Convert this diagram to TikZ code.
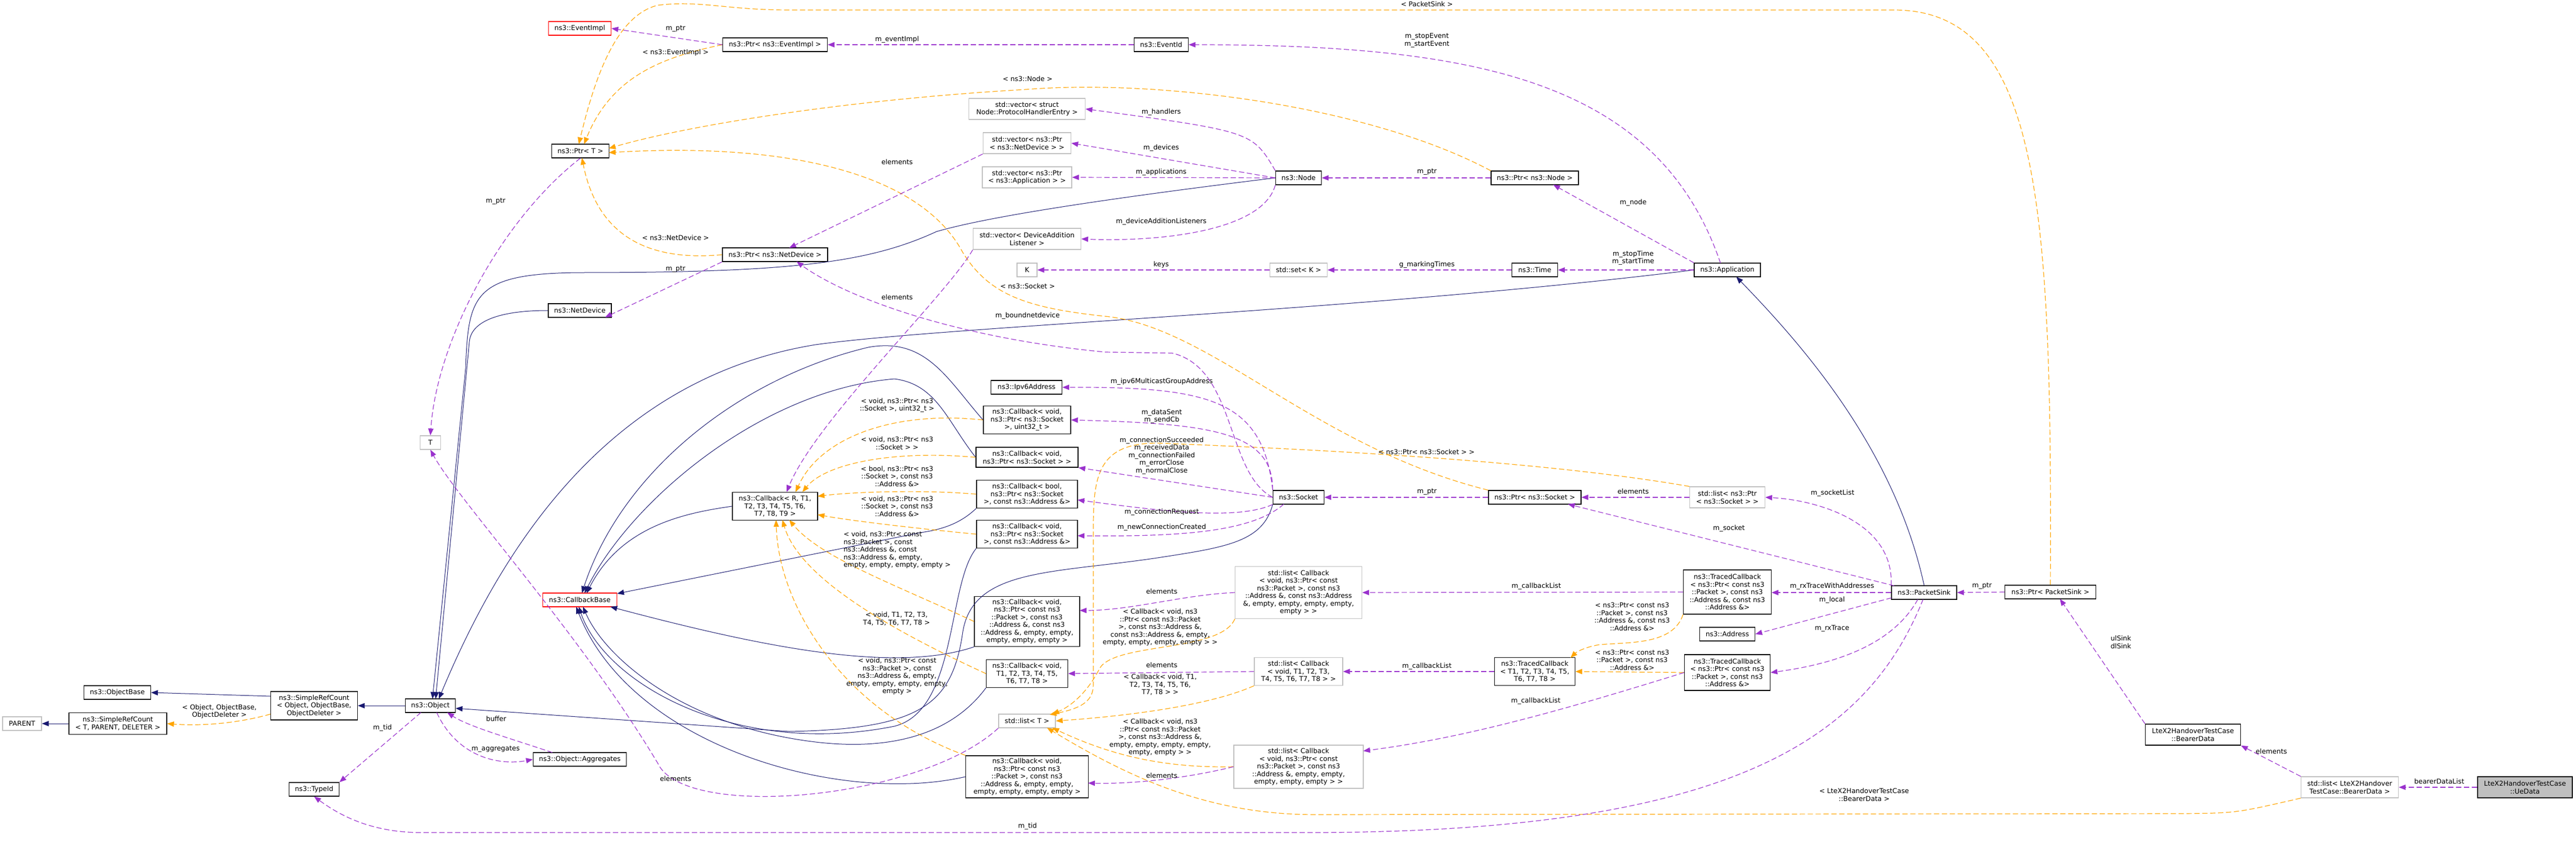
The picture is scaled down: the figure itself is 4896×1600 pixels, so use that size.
\documentclass[tikz,border=0pt]{standalone}
\usepackage{fontspec}
\setmainfont{DejaVu Sans}
\usetikzlibrary{arrows.meta}
\begin{document}
\begin{tikzpicture}[x=1pt,y=-1pt,
 every node/.style={font=\fontsize{12.8}{14.5}\selectfont},
 box/.style={draw=black,line width=1.3pt,fill=white,align=center,inner sep=1pt},
 gbox/.style={box,draw=black!25},
 rbox/.style={box,draw=red},
 lab/.style={align=center,inner sep=0pt},
 inh/.style={color={rgb,255:red,25;green,25;blue,112},line width=1pt,-{Triangle[length=13pt,width=10pt]}},
 use/.style={color={rgb,255:red,154;green,50;blue,205},line width=1.2pt,dash pattern=on 10pt off 5pt,-{Triangle[length=13pt,width=10pt]}},
 tmpl/.style={color={rgb,255:red,255;green,165;blue,0},line width=1.2pt,dash pattern=on 10pt off 5pt,-{Triangle[length=13pt,width=10pt]}}]
\useasboundingbox (0,0) rectangle (4896,1600);
\fill[white] (0,0) rectangle (4896,1600);
% nodes
\node[rbox,minimum width=119pt,minimum height=26pt] (EventImpl) at (1102,54) {ns3::EventImpl};
\node[box,minimum width=109pt,minimum height=26pt] (PtrT) at (1103,287) {ns3::Ptr< T >};
\node[box,minimum width=199pt,minimum height=26pt] (PtrEventImpl) at (1473,85) {ns3::Ptr< ns3::EventImpl >};
\node[box,minimum width=103pt,minimum height=26pt] (EventId) at (2207,85) {ns3::EventId};
\node[box,minimum width=120pt,minimum height=26pt] (NetDevice) at (1102,590) {ns3::NetDevice};
\node[box,minimum width=200pt,minimum height=26pt] (PtrNetDevice) at (1473,484) {ns3::Ptr< ns3::NetDevice >};
\node[gbox,minimum width=39pt,minimum height=26pt] (T) at (818,841) {T};
\node[rbox,minimum width=141pt,minimum height=26pt] (CallbackBase) at (1102,1140) {ns3::CallbackBase};
\node[box,minimum width=95pt,minimum height=26pt] (Object) at (818,1341) {ns3::Object};
\node[box,minimum width=177pt,minimum height=26pt] (Aggregates) at (1102,1443) {ns3::Object::Aggregates};
\node[box,minimum width=127pt,minimum height=26pt] (ObjectBase) at (223,1316) {ns3::ObjectBase};
\node[gbox,minimum width=74pt,minimum height=26pt] (PARENT) at (42,1375) {PARENT};
\node[box,minimum width=186pt,minimum height=41pt] (SRCt) at (224,1375) {ns3::SimpleRefCount\\< T, PARENT, DELETER >};
\node[box,minimum width=165pt,minimum height=54pt] (SRCo) at (597,1341) {ns3::SimpleRefCount\\< Object, ObjectBase,\\ObjectDeleter >};
\node[box,minimum width=95pt,minimum height=26pt] (TypeId) at (597,1500) {ns3::TypeId};
\node[box,minimum width=162pt,minimum height=53pt] (CbR) at (1473,962) {ns3::Callback< R, T1,\\T2, T3, T4, T5, T6,\\T7, T8, T9 >};
\node[box,minimum width=135pt,minimum height=26pt] (Ipv6) at (1951,736) {ns3::Ipv6Address};
\node[box,minimum width=166pt,minimum height=53pt] (CbSu) at (1952,798) {ns3::Callback< void,\\ns3::Ptr< ns3::Socket\\>, uint32\_t >};
\node[box,minimum width=194pt,minimum height=38pt] (CbS) at (1952,869) {ns3::Callback< void,\\ns3::Ptr< ns3::Socket > >};
\node[box,minimum width=192pt,minimum height=53pt] (CbB) at (1952,939) {ns3::Callback< bool,\\ns3::Ptr< ns3::Socket\\>, const ns3::Address \&>};
\node[box,minimum width=192pt,minimum height=53pt] (CbSA) at (1952,1015) {ns3::Callback< void,\\ns3::Ptr< ns3::Socket\\>, const ns3::Address \&>};
\node[box,minimum width=200pt,minimum height=95pt] (CbPAA) at (1952,1181) {ns3::Callback< void,\\ns3::Ptr< const ns3\\::Packet >, const ns3\\::Address \&, const ns3\\::Address \&, empty, empty,\\empty, empty, empty >};
\node[box,minimum width=155pt,minimum height=53pt] (CbT) at (1952,1280) {ns3::Callback< void,\\T1, T2, T3, T4, T5,\\T6, T7, T8 >};
\node[gbox,minimum width=108pt,minimum height=26pt] (ListT) at (1952,1370) {std::list< T >};
\node[box,minimum width=233pt,minimum height=80pt] (CbPA) at (1952,1476) {ns3::Callback< void,\\ns3::Ptr< const ns3\\::Packet >, const ns3\\::Address \&, empty, empty,\\empty, empty, empty, empty >};
\node[gbox,minimum width=221pt,minimum height=40pt] (VecPH) at (1952,207) {std::vector< struct\\Node::ProtocolHandlerEntry >};
\node[gbox,minimum width=167pt,minimum height=40pt] (VecND) at (1952,272) {std::vector< ns3::Ptr\\< ns3::NetDevice > >};
\node[gbox,minimum width=170pt,minimum height=40pt] (VecApp) at (1952,337) {std::vector< ns3::Ptr\\< ns3::Application > >};
\node[gbox,minimum width=205pt,minimum height=40pt] (VecDAL) at (1952,454) {std::vector< DeviceAddition\\Listener >};
\node[gbox,minimum width=38pt,minimum height=26pt] (K) at (1952,513) {K};
\node[box,minimum width=87pt,minimum height=26pt] (Node) at (2468,338) {ns3::Node};
\node[gbox,minimum width=109pt,minimum height=26pt] (SetK) at (2468,513) {std::set< K >};
\node[box,minimum width=166pt,minimum height=26pt] (PtrNode) at (2917,338) {ns3::Ptr< ns3::Node >};
\node[box,minimum width=87pt,minimum height=26pt] (Time) at (2917,513) {ns3::Time};
\node[box,minimum width=126pt,minimum height=26pt] (App) at (3283,513) {ns3::Application};
\node[box,minimum width=97pt,minimum height=26pt] (Socket) at (2468,945) {ns3::Socket};
\node[box,minimum width=176pt,minimum height=26pt] (PtrSocket) at (2917,945) {ns3::Ptr< ns3::Socket >};
\node[gbox,minimum width=143pt,minimum height=40pt] (ListPS) at (3283,945) {std::list< ns3::Ptr\\< ns3::Socket > >};
\node[gbox,minimum width=241pt,minimum height=99pt] (ListCbPAA) at (2468,1126) {std::list< Callback\\< void, ns3::Ptr< const\\ns3::Packet >, const ns3\\::Address \&, const ns3::Address\\\&, empty, empty, empty, empty,\\empty > >};
\node[gbox,minimum width=168pt,minimum height=53pt] (ListCbT) at (2468,1276) {std::list< Callback\\< void, T1, T2, T3,\\T4, T5, T6, T7, T8 > >};
\node[gbox,minimum width=246pt,minimum height=82pt] (ListCbPA) at (2468,1457) {std::list< Callback\\< void, ns3::Ptr< const\\ns3::Packet >, const ns3\\::Address \&, empty, empty,\\empty, empty, empty > >};
\node[box,minimum width=153pt,minimum height=53pt] (TCT) at (2917,1276) {ns3::TracedCallback\\< T1, T2, T3, T4, T5,\\T6, T7, T8 >};
\node[box,minimum width=167pt,minimum height=84pt] (TCPAA) at (3283,1125) {ns3::TracedCallback\\< ns3::Ptr< const ns3\\::Packet >, const ns3\\::Address \&, const ns3\\::Address \&>};
\node[box,minimum width=105pt,minimum height=26pt] (Address) at (3283,1205) {ns3::Address};
\node[box,minimum width=163pt,minimum height=68pt] (TCPA) at (3283,1278) {ns3::TracedCallback\\< ns3::Ptr< const ns3\\::Packet >, const ns3\\::Address \&>};
\node[box,minimum width=124pt,minimum height=26pt] (PacketSink) at (3657,1126) {ns3::PacketSink};
\node[box,minimum width=173pt,minimum height=26pt] (PtrPS) at (3897,1125) {ns3::Ptr< PacketSink >};
\node[box,minimum width=181pt,minimum height=40pt] (BearerData) at (4168,1396) {LteX2HandoverTestCase\\::BearerData};
\node[gbox,minimum width=185pt,minimum height=40pt] (ListBD) at (4466,1496) {std::list< LteX2Handover\\TestCase::BearerData >};
\node[box,fill=black!25,minimum width=180pt,minimum height=40pt] (UeData) at (4799,1496) {LteX2HandoverTestCase\\::UeData};
\coordinate (c1) at (2100,669);
% inheritance
\draw[inh] (Object.west) -- (SRCo.east);
\draw[inh] (514,1323) -- (ObjectBase.east);
\draw[inh] (SRCt.west) -- (PARENT.east);
\draw[inh] (Node.west) .. controls (2000,390) and (1850,420) .. (1780,440) .. controls (1650,500) and (1500,518) .. (1100,518) .. controls (900,520) and (890,560) .. (885,700) -- (822,1328);
\draw[inh] (NetDevice.west) .. controls (950,590) and (895,610) .. (892,650) -- (828,1328);
\draw[inh] (App.west) .. controls (2600,590) and (1800,620) .. (1550,655) .. controls (1150,720) and (950,1050) .. (834,1328);
\draw[inh] (Socket.south west) .. controls (2400,1030) and (2330,1040) .. (2200,1060) .. controls (2000,1090) and (1850,1080) .. (1830,1200) .. controls (1810,1340) and (1750,1385) .. (1500,1390) -- (866,1346);
\draw[inh] (PacketSink.north) .. controls (3600,850) and (3420,650) .. (3300,526);
\draw[inh] (CbR.west) .. controls (1300,975) and (1180,1000) .. (1115,1127);
\draw[inh] (CbSu.west) .. controls (1800,720) and (1760,640) .. (1650,660) .. controls (1400,720) and (1180,900) .. (1106,1127);
\draw[inh] (CbS.west) .. controls (1800,800) and (1780,730) .. (1700,720) .. controls (1450,740) and (1200,950) .. (1111,1127);
\draw[inh] (CbB.south west) .. controls (1830,990) and (1800,1005) .. (1750,1012) -- (1173,1128);
\draw[inh] (CbSA.south west) .. controls (1800,1110) and (1820,1350) .. (1700,1380) .. controls (1400,1440) and (1150,1300) .. (1100,1153);
\draw[inh] (CbPAA.south west) .. controls (1700,1280) and (1450,1230) .. (1160,1153);
\draw[inh] (CbT.south west) .. controls (1820,1380) and (1720,1430) .. (1550,1410) .. controls (1300,1380) and (1150,1250) .. (1108,1153);
\draw[inh] (CbPA.west) .. controls (1600,1530) and (1200,1420) .. (1095,1153);
% template edges
\draw[tmpl] (514,1357) .. controls (450,1375) and (380,1380) .. (SRCt.east);
\node[lab] (l1) at (417,1352) {< Object, ObjectBase,\\ObjectDeleter >};
\draw[tmpl] (PtrEventImpl.west) .. controls (1250,110) and (1160,150) .. (1110,274);
\node[lab] (l2) at (1284,100) {< ns3::EventImpl >};
\draw[tmpl] (PtrNode.north west) .. controls (2600,200) and (2200,150) .. (1950,170) .. controls (1600,190) and (1300,240) .. (1157,282);
\node[lab] (l3) at (1953,150) {< ns3::Node >};
\draw[tmpl] (PtrNetDevice.west) .. controls (1200,500) and (1130,420) .. (1106,300);
\node[lab] (l4) at (1284,452) {< ns3::NetDevice >};
\draw[tmpl] (PtrSocket.north west) .. controls (2500,850) and (2300,620) .. (2100,601) .. controls (1950,585) and (1880,560) .. (1830,480) .. controls (1750,330) and (1500,270) .. (1157,290);
\node[lab] (l5) at (1953,544) {< ns3::Socket >};
\draw[tmpl] (PtrPS.north) .. controls (3900,400) and (3880,19) .. (3600,19) -- (1500,19) .. controls (1380,19) and (1330,0) .. (1250,10) .. controls (1170,30) and (1130,150) .. (1100,274);
\node[lab] (l6) at (2712,8) {< PacketSink >};
\draw[tmpl] (CbSu.west) .. controls (1700,780) and (1560,830) .. (1512,935);
\node[lab] (l7) at (1705,770) {< void, ns3::Ptr< ns3\\::Socket >, uint32\_t >};
\draw[tmpl] (CbS.west) .. controls (1700,855) and (1570,880) .. (1525,935);
\node[lab] (l8) at (1705,842) {< void, ns3::Ptr< ns3\\::Socket > >};
\draw[tmpl] (CbB.west) .. controls (1750,930) and (1620,935) .. (1554,943);
\node[lab] (l9) at (1705,905) {< bool, ns3::Ptr< ns3\\::Socket >, const ns3\\::Address \&>};
\draw[tmpl] (CbSA.west) .. controls (1750,1005) and (1620,990) .. (1554,978);
\node[lab] (l10) at (1705,962) {< void, ns3::Ptr< ns3\\::Socket >, const ns3\\::Address \&>};
\draw[tmpl] (CbPAA.west) .. controls (1700,1110) and (1560,1060) .. (1500,988);
\node[lab,align=left] (l11) at (1705,1045) {< void, ns3::Ptr< const\\ns3::Packet >, const\\ns3::Address \&, const\\ns3::Address \&, empty,\\empty, empty, empty, empty >};
\draw[tmpl] (CbT.west) .. controls (1700,1200) and (1520,1100) .. (1487,988);
\node[lab] (l12) at (1704,1176) {< void, T1, T2, T3,\\T4, T5, T6, T7, T8 >};
\draw[tmpl] (CbPA.north west) .. controls (1600,1350) and (1480,1150) .. (1475,988);
\node[lab] (l13) at (1705,1285) {< void, ns3::Ptr< const\\ns3::Packet >, const\\ns3::Address \&, empty,\\empty, empty, empty, empty,\\empty >};
\draw[tmpl] (ListCbPAA.south west) .. controls (2320,1240) and (2120,1220) .. (2090,1270) .. controls (2070,1310) and (2040,1340) .. (2000,1357);
\node[lab] (l14) at (2205,1192) {< Callback< void, ns3\\::Ptr< const ns3::Packet\\>, const ns3::Address \&,\\const ns3::Address \&, empty,\\empty, empty, empty, empty > >};
\draw[tmpl] (ListCbT.south west) .. controls (2300,1340) and (2150,1360) .. (ListT.east);
\node[lab] (l15) at (2205,1301) {< Callback< void, T1,\\T2, T3, T4, T5, T6,\\T7, T8 > >};
\draw[tmpl] (ListCbPA.west) .. controls (2200,1460) and (2100,1430) .. (2000,1383);
\node[lab] (l16) at (2205,1401) {< Callback< void, ns3\\::Ptr< const ns3::Packet\\>, const ns3::Address \&,\\empty, empty, empty, empty,\\empty, empty > >};
\draw[tmpl] (ListPS.north west) .. controls (2900,870) and (2400,850) .. (2200,842) .. controls (2090,842) and (2078,900) .. (2078,1000) -- (2078,1300) .. controls (2078,1330) and (2060,1345) .. (1995,1358);
\node[lab] (l17) at (2711,859) {< ns3::Ptr< ns3::Socket > >};
\draw[tmpl] (ListBD.south west) .. controls (4250,1545) .. (4150,1546) -- (2500,1548) .. controls (2300,1548) and (2150,1480) .. (1990,1383);
\node[lab] (l18) at (3543,1510) {< LteX2HandoverTestCase\\::BearerData >};
\draw[tmpl] (TCPAA.south west) .. controls (3180,1225) and (3100,1220) .. (3040,1225) .. controls (3010,1230) and (2995,1240) .. (2985,1250);
\node[lab] (l19) at (3102,1172) {< ns3::Ptr< const ns3\\::Packet >, const ns3\\::Address \&, const ns3\\::Address \&>};
\draw[tmpl] (TCPA.west) -- (TCT.east);
\node[lab] (l20) at (3102,1254) {< ns3::Ptr< const ns3\\::Packet >, const ns3\\::Address \&>};
% usage edges
\draw[use] (800,1354) -- (TypeId.north east);
\node[lab] (l21) at (727,1383) {m\_tid};
\draw[use] (830,1354) .. controls (870,1440) and (950,1455) .. (Aggregates.west);
\node[lab] (l22) at (942,1423) {m\_aggregates};
\draw[use] (1050,1430) .. controls (960,1400) and (890,1380) .. (850,1354);
\node[lab] (l23) at (943,1366) {buffer};
\draw[use] (PtrT.south) .. controls (950,420) and (830,650) .. (T.north);
\node[lab] (l24) at (942,383) {m\_ptr};
\draw[use] (ListT.south west) .. controls (1750,1520) and (1300,1560) .. (1250,1450) .. controls (1100,1200) and (870,950) .. (T.south);
\node[lab] (l25) at (1284,1480) {elements};
\draw[use] (PtrEventImpl.west) -- (EventImpl.east);
\node[lab] (l26) at (1284,55) {m\_ptr};
\draw[use] (EventId.west) -- (PtrEventImpl.east);
\node[lab] (l27) at (1705,75) {m\_eventImpl};
\draw[use] (PtrNode.west) -- (Node.east);
\node[lab] (l28) at (2712,327) {m\_ptr};
\draw[use] (PtrNetDevice.south west) -- (1150,603);
\node[lab] (l29) at (1284,512) {m\_ptr};
\draw[use] (VecND.south west) -- (1500,471);
\node[lab] (l30) at (1705,308) {elements};
\draw[use] (Node.north west) .. controls (2380,250) .. (VecPH.east);
\node[lab] (l31) at (2207,213) {m\_handlers};
\draw[use] (Node.west) -- (VecND.east);
\node[lab] (l32) at (2207,281) {m\_devices};
\draw[use] (Node.west) -- (VecApp.east);
\node[lab] (l33) at (2207,327) {m\_applications};
\draw[use] (Node.south west) .. controls (2400,440) and (2200,460) .. (VecDAL.east);
\node[lab] (l34) at (2207,421) {m\_deviceAdditionListeners};
\draw[use] (App.north west) -- (2952,351);
\node[lab] (l35) at (3104,385) {m\_node};
\draw[use] (3270,500) .. controls (3150,150) and (2800,85) .. (EventId.east);
\node[lab] (l36) at (2712,77) {m\_stopEvent\\m\_startEvent};
\draw[use] (App.west) -- (Time.east);
\node[lab] (l37) at (3104,490) {m\_stopTime\\m\_startTime};
\draw[use] (Time.west) -- (SetK.east);
\node[lab] (l38) at (2712,503) {g\_markingTimes};
\draw[use] (SetK.west) -- (K.east);
\node[lab] (l39) at (2207,503) {keys};
\draw[use] (PacketSink.north west) .. controls (3600,990) and (3450,950) .. (ListPS.east);
\node[lab] (l40) at (3483,937) {m\_socketList};
\draw[use] (3600,1113) -- (2980,958);
\node[lab] (l41) at (3286,1004) {m\_socket};
\draw[use] (PacketSink.west) -- (3367,1126);
\node[lab] (l42) at (3482,1114) {m\_rxTraceWithAddresses};
\draw[use] (3595,1136) -- (Address.east);
\node[lab] (l43) at (3482,1140) {m\_local};
\draw[use] (3645,1139) .. controls (3600,1220) and (3500,1260) .. (TCPA.east);
\node[lab] (l44) at (3482,1194) {m\_rxTrace};
\draw[use] (3655,1139) .. controls (3550,1400) and (3300,1580) .. (2500,1582) -- (800,1582) .. controls (700,1582) and (640,1545) .. (TypeId.south);
\node[lab] (l45) at (1953,1570) {m\_tid};
\draw[use] (PtrPS.west) -- (PacketSink.east);
\node[lab] (l46) at (3767,1114) {m\_ptr};
\draw[use] (BearerData.north west) -- (3915,1138);
\node[lab] (l47) at (4031,1220) {ulSink\\dlSink};
\draw[use] (ListBD.north west) -- (BearerData.south east);
\node[lab] (l48) at (4317,1428) {elements};
\draw[use] (UeData.west) -- (ListBD.east);
\node[lab] (l49) at (4636,1485) {bearerDataList};
\draw[use] (ListPS.west) -- (PtrSocket.east);
\node[lab] (l50) at (3104,934) {elements};
\draw[use] (PtrSocket.west) -- (Socket.east);
\node[lab] (l51) at (2712,935) {m\_ptr};
\draw[use] (Socket.north west) .. controls (2400,760) and (2300,735) .. (Ipv6.east);
\node[lab] (l52) at (2208,725) {m\_ipv6MulticastGroupAddress};
\draw[use] (Socket.north west) .. controls (2420,820) and (2300,805) .. (CbSu.east);
\node[lab] (l53) at (2208,791) {m\_dataSent\\m\_sendCb};
\draw[use] (Socket.west) -- (CbS.south east);
\node[lab] (l54) at (2208,866) {m\_connectionSucceeded\\m\_receivedData\\m\_connectionFailed\\m\_errorClose\\m\_normalClose};
\draw[use] (Socket.south west) .. controls (2350,990) and (2200,970) .. (2048,950);
\node[lab] (l55) at (2208,973) {m\_connectionRequest};
\draw[use] (2440,958) .. controls (2380,1010) and (2250,1020) .. (2048,1018);
\node[lab] (l56) at (2208,1002) {m\_newConnectionCreated};
\draw[use] (Socket.west) .. controls (2330,900) and (2350,700) .. (2228,671) -- (c1) .. controls (1800,640) and (1600,560) .. (1514,497);
\node[lab] (l57) at (1953,600) {m\_boundnetdevice};
\draw[use] (VecDAL.south west) .. controls (1800,560) and (1550,800) .. (1495,935);
\node[lab] (l58) at (1705,565) {elements};
\draw[use] (ListCbPAA.west) .. controls (2250,1130) and (2150,1160) .. (2052,1160);
\node[lab] (l59) at (2208,1124) {elements};
\draw[use] (ListCbT.west) -- (CbT.east);
\node[lab] (l60) at (2208,1264) {elements};
\draw[use] (ListCbPA.west) .. controls (2250,1480) and (2150,1490) .. (2068,1488);
\node[lab] (l61) at (2208,1474) {elements};
\draw[use] (TCT.west) -- (ListCbT.east);
\node[lab] (l62) at (2712,1266) {m\_callbackList};
\draw[use] (TCPAA.west) -- (ListCbPAA.east);
\node[lab] (l63) at (2920,1114) {m\_callbackList};
\draw[use] (TCPA.west) .. controls (3000,1340) and (2800,1400) .. (2591,1427);
\node[lab] (l64) at (2919,1332) {m\_callbackList};
\end{tikzpicture}
\end{document}
